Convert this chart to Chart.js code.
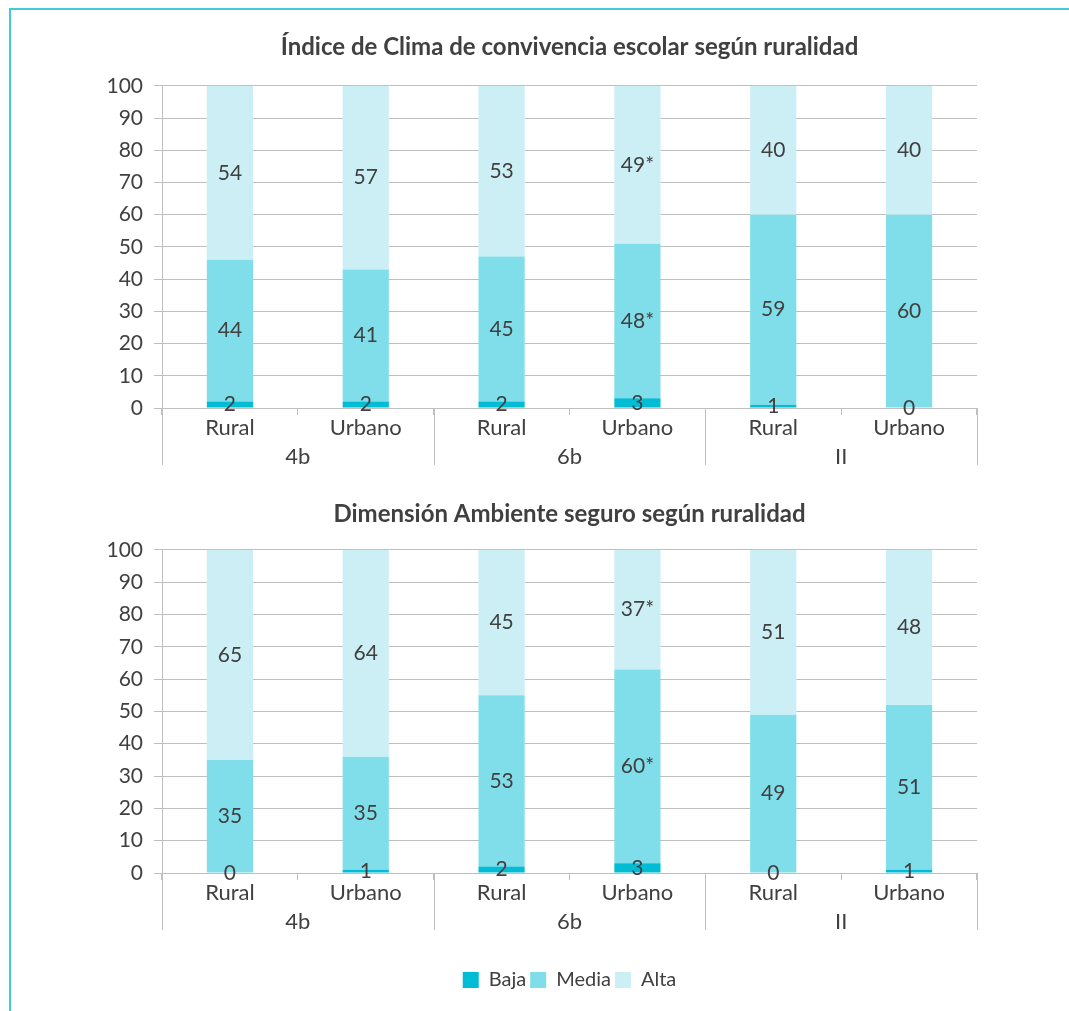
<!DOCTYPE html>
<html>
<head>
<meta charset="utf-8">
<script src="https://cdn.jsdelivr.net/npm/chart.js@4"></script>
<style>
  html, body { margin:0; padding:0; background:#fff; overflow:hidden; width:1069px; height:1011px; }
  #frame { position:absolute; left:9px; top:8px; width:1200px; height:1200px; border-top:2px solid #3fcbdc; border-left:2px solid #3fcbdc; }
  .wrap { position:absolute; left:60px; }
  canvas { display:block; }
</style>
</head>
<body>
<div id="frame"></div>
<div class="wrap" style="top:20px;"><canvas id="c1" width="1020" height="460"></canvas></div>
<div class="wrap" style="top:480px;"><canvas id="c2" width="1020" height="531"></canvas></div>
<script>
// ---- data ----
const categories = ['Rural', 'Urbano', 'Rural', 'Urbano', 'Rural', 'Urbano'];
const groups = ['4b', '6b', 'II'];
const seriesNames = ['Baja', 'Media', 'Alta'];
const yTicks = [0, 10, 20, 30, 40, 50, 60, 70, 80, 90, 100];

const title1 = 'Índice de Clima de convivencia escolar según ruralidad';
const clima_Baja  = [2, 2, 2, 3, 1, 0];
const clima_Media = [44, 41, 45, 48, 59, 60];
const clima_Alta  = [54, 57, 53, 49, 40, 40];
const clima_BajaLabels  = ['2', '2', '2', '3', '1', '0'];
const clima_MediaLabels = ['44', '41', '45', '48*', '59', '60'];
const clima_AltaLabels  = ['54', '57', '53', '49*', '40', '40'];

const title2 = 'Dimensión Ambiente seguro según ruralidad';
const seguro_Baja  = [0, 1, 2, 3, 0, 1];
const seguro_Media = [35, 35, 53, 60, 49, 51];
const seguro_Alta  = [65, 64, 45, 37, 51, 48];
const seguro_BajaLabels  = ['0', '1', '2', '3', '0', '1'];
const seguro_MediaLabels = ['35', '35', '53', '60*', '49', '51'];
const seguro_AltaLabels  = ['65', '64', '45', '37*', '51', '48'];

const colors = ['#00BCD4', '#80DEEA', '#CCEFF5'];
const textColor = '#404040';
const gridColor = '#BFBFBF';
const FONT = 'Lato';

const groupSeparators = {
  id: 'groupSeparators',
  afterDraw(chart) {
    const { ctx, chartArea } = chart;
    const xs = chart.scales.x;
    const n = groups.length;
    ctx.save();
    ctx.strokeStyle = gridColor;
    ctx.lineWidth = 1;
    for (let i = 0; i <= n; i++) {
      const px = Math.round(xs.left + i * (xs.width / n)) + 0.5;
      ctx.beginPath();
      ctx.moveTo(px, chartArea.bottom);
      ctx.lineTo(px, chartArea.bottom + 57);
      ctx.stroke();
    }
    ctx.restore();
  }
};

const valueLabels = {
  id: 'valueLabels',
  afterDatasetsDraw(chart) {
    const { ctx } = chart;
    ctx.save();
    ctx.font = '21px ' + FONT;
    ctx.fillStyle = textColor;
    ctx.textAlign = 'center';
    ctx.textBaseline = 'middle';
    chart.data.datasets.forEach((ds, di) => {
      const meta = chart.getDatasetMeta(di);
      meta.data.forEach((bar, i) => {
        ctx.fillText(ds.valueLabels[i], bar.x, (bar.y + bar.base) / 2);
      });
    });
    ctx.restore();
  }
};

function makeChart(id, title, baja, media, alta, labB, labM, labA, opts) {
  const values = [baja, media, alta];
  const labs = [labB, labM, labA];
  return new Chart(document.getElementById(id), {
    type: 'bar',
    data: {
      labels: categories,
      datasets: seriesNames.map((name, k) => ({
        label: name,
        data: values[k],
        valueLabels: labs[k],
        backgroundColor: colors[k],
        borderWidth: 0,
        barPercentage: 0.34,
        categoryPercentage: 1.0
      }))
    },
    options: {
      responsive: false,
      animation: false,
      layout: { padding: { left: 0, right: 103, top: 0, bottom: opts.padBottom } },
      plugins: {
        title: {
          display: true,
          fullSize: false,
          text: title,
          color: textColor,
          font: { family: FONT, size: 24, weight: 'bold', lineHeight: 1.2 },
          padding: { top: opts.titleTop, bottom: opts.titleBottom }
        },
        legend: opts.legend ? {
          display: true,
          fullSize: false,
          position: 'bottom',
          labels: {
            color: textColor,
            font: { family: FONT, size: 20 },
            boxWidth: 16,
            boxHeight: 16,
            padding: 4
          }
        } : { display: false },
        tooltip: { enabled: false }
      },
      scales: {
        x: {
          stacked: true,
          weight: 0,
          offset: true,
          grid: { display: true, drawOnChartArea: false, drawTicks: true, tickLength: 7, color: gridColor, offset: true },
          border: { display: true, color: gridColor },
          ticks: { color: textColor, font: { family: FONT, size: 22 }, padding: 0, maxRotation: 0 },
          afterFit: s => { s.height = 36; }
        },
        x2: {
          type: 'category',
          position: 'bottom',
          labels: groups,
          weight: 1,
          offset: true,
          grid: { display: false, drawTicks: false },
          border: { display: false },
          ticks: { color: textColor, font: { family: FONT, size: 22 }, padding: 0, maxRotation: 0 },
          afterFit: s => { s.height = opts.x2Height; }
        },
        y: {
          stacked: true,
          min: 0,
          max: 100,
          afterBuildTicks: s => { s.ticks = yTicks.map(v => ({ value: v })); },
          grid: { color: gridColor, drawTicks: true, tickLength: 8 },
          border: { display: true, color: gridColor },
          ticks: { color: textColor, font: { family: FONT, size: 21 }, padding: 11 },
          afterFit: s => { s.width = 102; }
        }
      }
    },
    plugins: [groupSeparators, valueLabels]
  });
}

makeChart('c1', title1, clima_Baja, clima_Media, clima_Alta,
  clima_BajaLabels, clima_MediaLabels, clima_AltaLabels,
  { titleTop: 13, titleBottom: 24, padBottom: 6, x2Height: 30, legend: false });

makeChart('c2', title2, seguro_Baja, seguro_Media, seguro_Alta,
  seguro_BajaLabels, seguro_MediaLabels, seguro_AltaLabels,
  { titleTop: 20, titleBottom: 21, padBottom: 11, x2Height: 57, legend: true });
</script>
</body>
</html>
